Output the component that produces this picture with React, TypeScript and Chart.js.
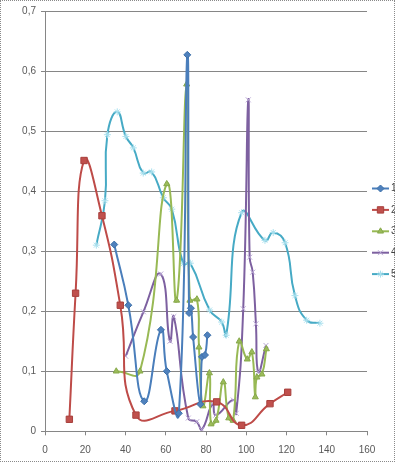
import React, { useEffect, useRef } from "react";
import { Chart, registerables } from "chart.js";
import { drawPoint } from "chart.js/helpers";

Chart.register(...registerables);

const seriesNames = ["1", "2", "3", "4", "5"];

const s1x = [34.4, 41.4, 49.3, 57.6, 60.5, 66.5, 70.7, 71.6, 72.5, 73.6, 77.2, 78, 79.5, 80.7];
const s1y = [0.311, 0.21, 0.05, 0.169, 0.1, 0.03, 0.627, 0.197, 0.205, 0.157, 0.045, 0.124, 0.127, 0.16];

const s2x = [12.1, 15.2, 19.4, 28.3, 37.4, 45.2, 64.6, 85.3, 97.7, 111.8, 120.6];
const s2y = [0.02, 0.23, 0.451, 0.359, 0.21, 0.027, 0.034, 0.049, 0.01, 0.046, 0.065];

const s3x = [35.4, 47.2, 60.5, 65.4, 70.4, 72, 75.5, 76.5, 78.5, 81.7, 82.5, 85, 88.6, 91.3, 93.5, 96.5, 100.5, 102.8, 104.5, 105.3, 107.8, 110];
const s3y = [0.1, 0.1, 0.412, 0.218, 0.578, 0.218, 0.22, 0.14, 0.042, 0.097, 0.012, 0.018, 0.082, 0.022, 0.018, 0.15, 0.12, 0.132, 0.057, 0.09, 0.095, 0.137];

const s4x = [40.1, 48.9, 57.5, 62.1, 64, 71.2, 75.4, 77.9, 83.3, 84.9, 93.6, 95, 98.5, 101, 101.7, 103.2, 104.8, 106, 109.8];
const s4y = [0.125, 0.199, 0.262, 0.15, 0.191, 0.022, 0.016, 0.003, 0.046, 0.027, 0.052, 0.03, 0.204, 0.552, 0.29, 0.265, 0.179, 0.099, 0.143];

const s5x = [25.5, 29.8, 31, 35.9, 40.2, 43.9, 48.8, 53, 58.8, 63, 68.7, 72.2, 81.8, 87.8, 90, 97.7, 109.3, 113.4, 119.3, 124.2, 130, 136.6];
const s5y = [0.31, 0.384, 0.494, 0.532, 0.491, 0.472, 0.43, 0.432, 0.389, 0.37, 0.279, 0.28, 0.202, 0.182, 0.16, 0.364, 0.318, 0.331, 0.314, 0.226, 0.185, 0.18];

const xMin = 0;
const xMax = 160;
const xStep = 20;
const yMin = 0;
const yMax = 0.7;
const yStep = 0.1;

const lineColors = ["#4A7EBB", "#BE4B48", "#98B954", "#7D60A0", "#46AAC5"];
const markerFill = ["#4F81BD", "#C0504D", "#9BBB59", "#B3A2C7", "#A5DDEC"];
const markerBorder = ["#3C6FA8", "#A8403D", "#86A84A", "#B8A6D4", "#A9E0EE"];
const markerStyles = ["rectRot", "rect", "triangle", "crossRot", "star"];
const markerSizes = [3.5, 4.5, 3.5, 3.5, 3.5];

const allX = [s1x, s2x, s3x, s4x, s5x];
const allY = [s1y, s2y, s3y, s4y, s5y];

const fontFamily = "'Liberation Sans', Arial, sans-serif";

const legendPlugin = {
  id: "excelLegend",
  afterDraw(chart: any) {
    const ctx = chart.ctx;
    const x0 = 372;
    const y0 = 188.5;
    const gap = 21.4;
    chart.data.datasets.forEach((ds: any, i: number) => {
      const y = y0 + i * gap;
      ctx.save();
      ctx.strokeStyle = ds.borderColor;
      ctx.lineWidth = 2;
      ctx.beginPath();
      ctx.moveTo(x0, y);
      ctx.lineTo(x0 + 17, y);
      ctx.stroke();
      ctx.fillStyle = ds.pointBackgroundColor;
      ctx.strokeStyle = ds.pointBorderColor;
      ctx.lineWidth = 1;
      drawPoint(ctx, { pointStyle: ds.pointStyle, radius: ds.pointRadius, borderWidth: 1, rotation: 0 }, x0 + 8.5, y);
      ctx.fillStyle = "#404040";
      ctx.font = "10px " + fontFamily;
      ctx.textBaseline = "middle";
      ctx.textAlign = "left";
      ctx.fillText(ds.label, x0 + 19, y);
      ctx.restore();
    });
  },
};

export default function App() {
  const ref = useRef<HTMLCanvasElement | null>(null);

  useEffect(() => {
    document.body.style.margin = "0";
    const canvas = ref.current;
    if (!canvas) return;
    const datasets = seriesNames.map((name, i) => ({
      label: name,
      data: allX[i].map((x, k) => ({ x, y: allY[i][k] })),
      showLine: true,
      tension: 0.5,
      borderColor: lineColors[i],
      borderWidth: 2,
      pointStyle: markerStyles[i],
      pointRadius: markerSizes[i],
      pointBackgroundColor: markerFill[i],
      pointBorderColor: markerBorder[i],
      pointBorderWidth: 1,
    }));
    const chart = new Chart(canvas, {
      type: "scatter",
      data: { datasets },
      plugins: [legendPlugin],
      options: {
        responsive: false,
        animation: false,
        devicePixelRatio: 1,
        layout: { padding: { left: 0, top: 9, right: 28, bottom: 0 } },
        plugins: { legend: { display: false }, tooltip: { enabled: false } },
        scales: {
          x: {
            type: "linear",
            min: xMin,
            max: xMax,
            afterFit: (s: any) => {
              s.height = 30.7;
            },
            ticks: {
              stepSize: xStep,
              color: "#595959",
              font: { size: 10, family: fontFamily },
              padding: 9,
              maxRotation: 0,
            },
            grid: {
              drawOnChartArea: false,
              drawTicks: true,
              tickLength: 4,
              color: "#868686",
            },
            border: { display: true, color: "#868686", width: 1 },
          },
          y: {
            type: "linear",
            min: yMin,
            max: yMax,
            afterFit: (s: any) => {
              s.width = 45;
            },
            ticks: {
              stepSize: yStep,
              color: "#595959",
              font: { size: 10, family: fontFamily },
              padding: 5,
              callback: (v: any) => (v === 0 ? "0" : Number(v).toFixed(1).replace(".", ",")),
            },
            grid: {
              drawOnChartArea: true,
              drawTicks: true,
              tickLength: 4,
              color: "#868686",
            },
            border: { display: true, color: "#868686", width: 1 },
          },
        },
      },
    } as any);
    return () => chart.destroy();
  }, []);

  return (
    <div style={{ position: "fixed", left: 0, top: 0, width: 395, height: 462, background: "#fff" }}>
      <canvas ref={ref} width={395} height={462} style={{ position: "absolute", left: 0, top: 0 }} />
      <div
        style={{
          position: "absolute",
          left: 0,
          top: 0,
          width: 395,
          height: 462,
          boxSizing: "border-box",
          border: "1px dotted #8a8a8a",
          pointerEvents: "none",
        }}
      />
    </div>
  );
}
